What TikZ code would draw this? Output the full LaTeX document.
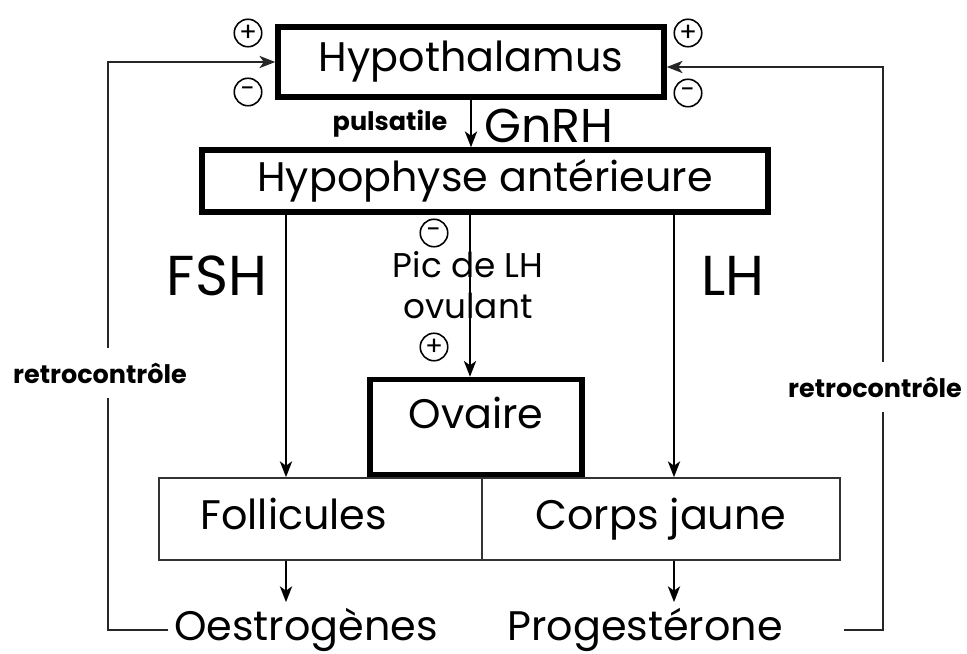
\documentclass[tikz,border=0pt]{standalone}
\usepackage{fontspec}
\setmainfont{Poppins}
\usetikzlibrary{arrows.meta,positioning}

\tikzset{
  bigtxt/.style={font=\fontsize{23.5}{28}\selectfont},
  hugetxt/.style={font=\fontsize{32}{36}\selectfont},
  midtxt/.style={font=\fontsize{19.5}{23}\selectfont},
  boldtxt/.style={font=\fontsize{14.5}{17}\selectfont\bfseries},
  organ/.style={draw, line width=3.2pt, bigtxt},
  tissue/.style={draw=black!80, line width=1pt, bigtxt, text height=0.6cm, text depth=0.18cm},
  sign/.style={circle, draw, line width=0.9pt, inner sep=0pt, minimum size=0.55cm, font=\fontsize{15}{15}\selectfont},
  arr/.style={line width=0.9pt, -{Stealth[length=9pt,width=7pt,inset=2.5pt]}},
  fb/.style={line width=0.9pt, draw=black!85}
}

\begin{document}
\begin{tikzpicture}[x=0.02cm,y=-0.02cm]

\useasboundingbox (0,0) rectangle (967,653);

% glands
\node[organ, minimum width=7.72cm, minimum height=1.4cm] (hypo) at (471,62) {Hypothalamus};
\node[organ, minimum width=11.32cm, minimum height=1.24cm] (hyp) at (485,181) {Hypophyse antérieure};
\node[organ, minimum width=4.24cm, minimum height=1.9cm, inner ysep=0.1cm, text depth=0.55cm] (ovaire) at (476,427) {Ovaire};

% ovary compartments
\node[tissue, minimum width=6.46cm, minimum height=1.64cm, text width=4.8cm, inner xsep=0.8cm, align=left] (fol) at (320.5,519) {Follicules};
\node[tissue, minimum width=7.16cm, minimum height=1.64cm] (corps) at (661,519) {Corps jaune};

% hormones
\node[bigtxt] (oestro) at (306,630) {Oestrogènes};
\node[bigtxt] (proges) at (645,630) {Progestérone};

% arrows
\draw[arr] (hypo.south) -- (hypo.south |- hyp.north);
\draw[arr] (286,0 |- hyp.south) -- (286,0 |- fol.north);
\draw[arr] (470,0 |- hyp.south) -- (470,0 |- ovaire.north);
\draw[arr] (674,0 |- hyp.south) -- (674,0 |- corps.north);
\draw[arr] (286,0 |- fol.south) -- (286,0 |- oestro.north);
\draw[arr] (674,0 |- corps.south) -- (674,0 |- proges.north);

% feedback loops
\draw[fb, arr] (oestro.west) -| (108,62) -- (hypo.west);
\draw[fb, arr] ([xshift=1.1cm]proges.east) -| (883,67) -- (hypo.east |- 883,67);

\node[boldtxt, fill=white, inner ysep=0.3cm] (retroL) at (100,373) {retrocontrôle};
\node[boldtxt, fill=white, inner ysep=0.3cm] (retroR) at (875,387) {retrocontrôle};

% labels
\node[boldtxt] (puls) at (390,124) {pulsatile};
\node[font=\fontsize{27}{30}\selectfont] (gnrh) at (549,126) {GnRH};
\node[hugetxt] (fsh) at (217,276) {FSH};
\node[hugetxt] (lh) at (733,276) {LH};
\node[midtxt, align=center] (pic) at (468,285) {Pic de LH\\ovulant};

% signs
\node[sign] (plusL) at (248,33) {+};
\node[sign] (minusL) at (248,92) {-};
\node[sign] (plusR) at (688,33) {+};
\node[sign] (minusR) at (688,93) {-};
\node[sign] (minusC) at (434,233) {-};
\node[sign] (plusC) at (434,347) {+};

\end{tikzpicture}
\end{document}
